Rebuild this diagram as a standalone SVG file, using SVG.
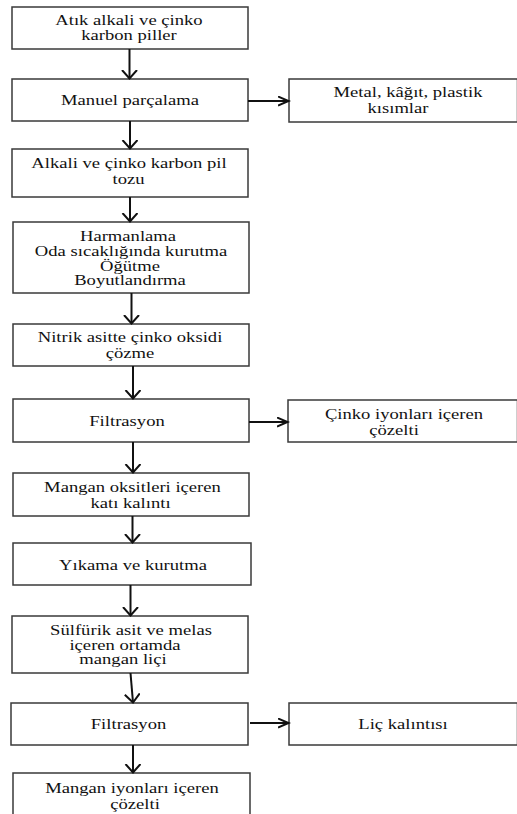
<svg xmlns="http://www.w3.org/2000/svg" width="517" height="814" viewBox="0 0 517 814">
<style>
.b{fill:#fff;stroke:#3a3a3a;stroke-width:1.5}
.t{font-family:"Liberation Serif","Times New Roman",serif;font-size:14px;fill:#111;text-anchor:middle}
.a{stroke:#111;stroke-width:2;fill:none}
.v{marker-end:url(#mv)}
.h{marker-end:url(#mh)}
</style>
<defs>
<marker id="mv" markerUnits="userSpaceOnUse" markerWidth="20" markerHeight="20" refX="9" refY="8" orient="auto" viewBox="0 0 20 20">
<path d="M0.5,0.5 L9,8 L0.5,15.5" fill="none" stroke="#111" stroke-width="2"/>
</marker>
<marker id="mh" markerUnits="userSpaceOnUse" markerWidth="20" markerHeight="20" refX="11" refY="5" orient="auto" viewBox="0 0 20 20">
<path d="M0.5,0.5 L11,5 L0.5,9.5" fill="none" stroke="#111" stroke-width="2"/>
</marker>
</defs>
<rect width="517" height="814" fill="#fff"/>
<g id="n1"><rect class="b" x="12" y="7" width="236" height="42"/>
<text class="t" transform="translate(129,25.4) scale(1.33,1)">Atık alkali ve çinko</text>
<text class="t" transform="translate(129,40.4) scale(1.33,1)">karbon piller</text></g>
<g id="n2"><rect class="b" x="12" y="79" width="236" height="42"/>
<text class="t" transform="translate(130,105) scale(1.33,1)">Manuel parçalama</text></g>
<g id="r1"><rect class="b" x="289" y="79" width="228.5" height="43"/>
<text class="t" transform="translate(408,97) scale(1.33,1)">Metal, kâğıt, plastik</text>
<text class="t" transform="translate(398,113) scale(1.33,1)">kısımlar</text></g>
<g id="n3"><rect class="b" x="12" y="149" width="236" height="48"/>
<text class="t" transform="translate(129,168) scale(1.33,1)">Alkali ve çinko karbon pil</text>
<text class="t" transform="translate(128.5,184) scale(1.33,1)">tozu</text></g>
<g id="n4"><rect class="b" x="13" y="222" width="236" height="71"/>
<text class="t" transform="translate(128,241) scale(1.33,1)">Harmanlama</text>
<text class="t" transform="translate(131,255.8) scale(1.33,1)">Oda sıcaklığında kurutma</text>
<text class="t" transform="translate(130,270.6) scale(1.33,1)">Öğütme</text>
<text class="t" transform="translate(130,285.4) scale(1.33,1)">Boyutlandırma</text></g>
<g id="n5"><rect class="b" x="13" y="324" width="236" height="42"/>
<text class="t" transform="translate(130,342) scale(1.33,1)">Nitrik asitte çinko oksidi</text>
<text class="t" transform="translate(130,357.5) scale(1.33,1)">çözme</text></g>
<g id="n6"><rect class="b" x="13" y="399" width="236" height="43"/>
<text class="t" transform="translate(127,426) scale(1.33,1)">Filtrasyon</text></g>
<g id="r2"><rect class="b" x="288" y="400" width="229.5" height="42"/>
<text class="t" transform="translate(404,419) scale(1.33,1)">Çinko iyonları içeren</text>
<text class="t" transform="translate(394,435) scale(1.33,1)">çözelti</text></g>
<g id="n7"><rect class="b" x="13" y="473" width="236" height="43"/>
<text class="t" transform="translate(132.5,492) scale(1.33,1)">Mangan oksitleri içeren</text>
<text class="t" transform="translate(130.5,507.5) scale(1.33,1)">katı kalıntı</text></g>
<g id="n8"><rect class="b" x="13" y="543" width="238" height="42"/>
<text class="t" transform="translate(133,570) scale(1.33,1)">Yıkama ve kurutma</text></g>
<g id="n9"><rect class="b" x="12" y="616" width="236" height="57"/>
<text class="t" transform="translate(131,634.8) scale(1.33,1)">Sülfürik asit ve melas</text>
<text class="t" transform="translate(125,649.6) scale(1.33,1)">içeren ortamda</text>
<text class="t" transform="translate(123,664.4) scale(1.33,1)">mangan liçi</text></g>
<g id="n10"><rect class="b" x="11" y="703" width="237" height="42"/>
<text class="t" transform="translate(128.5,729) scale(1.33,1)">Filtrasyon</text></g>
<g id="r3"><rect class="b" x="289" y="703" width="228.5" height="42"/>
<text class="t" transform="translate(403,729) scale(1.33,1)">Liç kalıntısı</text></g>
<g id="n11"><rect class="b" x="13" y="773" width="237" height="45"/>
<text class="t" transform="translate(132,793) scale(1.33,1)">Mangan iyonları içeren</text>
<text class="t" transform="translate(135,809) scale(1.33,1)">çözelti</text></g>
<g id="connectors">
<line class="a v" x1="129.5" y1="49" x2="129.5" y2="78.5"/>
<line class="a v" x1="130" y1="121" x2="130" y2="148.5"/>
<line class="a v" x1="130" y1="197" x2="130" y2="221.5"/>
<line class="a v" x1="131.5" y1="293" x2="131.5" y2="323.5"/>
<line class="a v" x1="133" y1="366" x2="133" y2="398.5"/>
<line class="a v" x1="133" y1="442" x2="133" y2="472.5"/>
<line class="a v" x1="132.5" y1="516" x2="132.5" y2="542.5"/>
<line class="a v" x1="130.5" y1="585" x2="130.5" y2="615.5"/>
<line class="a v" x1="130.5" y1="673" x2="133" y2="702.5"/>
<line class="a v" x1="133" y1="745" x2="133" y2="772.5"/>
<line class="a h" x1="248" y1="101" x2="288.5" y2="101"/>
<line class="a h" x1="249" y1="422" x2="287.5" y2="422"/>
<line class="a h" x1="250" y1="723" x2="288.5" y2="723"/>
</g>
</svg>
